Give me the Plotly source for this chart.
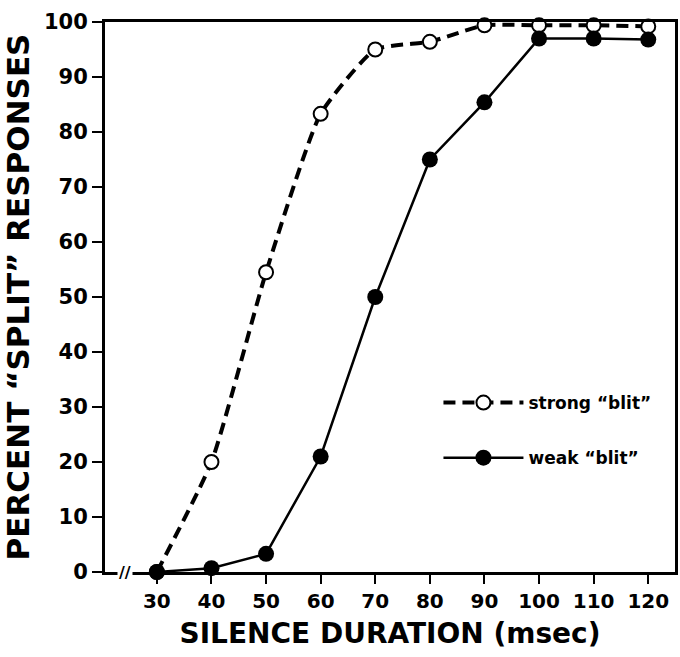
import plotly.graph_objects as go

durations = [30, 40, 50, 60, 70, 80, 90, 100, 110, 120]
strong_blit = [0, 20, 54.5, 83.3, 95, 96.4, 99.4, 99.4, 99.4, 99.2]
weak_blit = [0, 0.7, 3.3, 21, 50, 75, 85.4, 97.0, 97.0, 96.8]
x_ticks = [30, 40, 50, 60, 70, 80, 90, 100, 110, 120]
y_ticks = [0, 10, 20, 30, 40, 50, 60, 70, 80, 90, 100]

FONT = "DejaVu Sans"

fig = go.Figure()
fig.add_trace(go.Scatter(
    x=durations, y=strong_blit, name="strong \u201cblit\u201d", legendgroup="s",
    mode="lines+markers", line=dict(color="black", width=4, dash="12px,7px", shape="spline", smoothing=0.5),
    marker=dict(symbol="circle", size=14, color="white", line=dict(color="black", width=2)),
    cliponaxis=False,
))
fig.add_trace(go.Scatter(
    x=durations, y=weak_blit, name="weak \u201cblit\u201d", legendgroup="w",
    mode="lines+markers", line=dict(color="black", width=2.5),
    marker=dict(symbol="circle", size=16, color="black"),
    cliponaxis=False,
))

fig.add_annotation(x=24.2, y=0, text="<b>//</b>", showarrow=False, xref="x", yref="y",
                   font=dict(family=FONT, size=16, color="black"), bgcolor="white",
                   xanchor="center", yanchor="middle")

fig.update_layout(
    width=680, height=657,
    margin=dict(l=105, r=2, t=22, b=85),
    paper_bgcolor="white", plot_bgcolor="white",
    showlegend=True,
    legend=dict(x=0.585, y=0.34, xanchor="left", yanchor="top", bgcolor="rgba(0,0,0,0)",
                font=dict(family=FONT, size=17, color="black", weight="bold"),
                itemwidth=80, tracegroupgap=30, traceorder="grouped"),
    font=dict(family=FONT, color="black"),
)
fig.update_xaxes(
    range=[20.5, 124.9], tickvals=x_ticks, ticktext=[str(v) for v in x_ticks],
    showline=True, linecolor="black", linewidth=3, mirror=True,
    ticks="outside", ticklen=9, tickwidth=2, tickcolor="black",
    showgrid=False, zeroline=False,
    tickfont=dict(family=FONT, size=20, color="black", weight="bold"),
    title=dict(text="SILENCE DURATION (msec)", standoff=12,
               font=dict(family=FONT, size=28, color="black", weight="bold")),
)
fig.update_yaxes(
    range=[0, 100], tickvals=y_ticks, ticktext=[str(v) for v in y_ticks],
    showline=True, linecolor="black", linewidth=3, mirror=True,
    ticks="outside", ticklen=10, tickwidth=2, tickcolor="black",
    showgrid=False, zeroline=False,
    tickfont=dict(family=FONT, size=21, color="black", weight="bold"),
    title=dict(text="PERCENT \u201cSPLIT\u201d RESPONSES", standoff=6,
               font=dict(family=FONT, size=31, color="black", weight="bold")),
)

fig.write_html("out.html")
